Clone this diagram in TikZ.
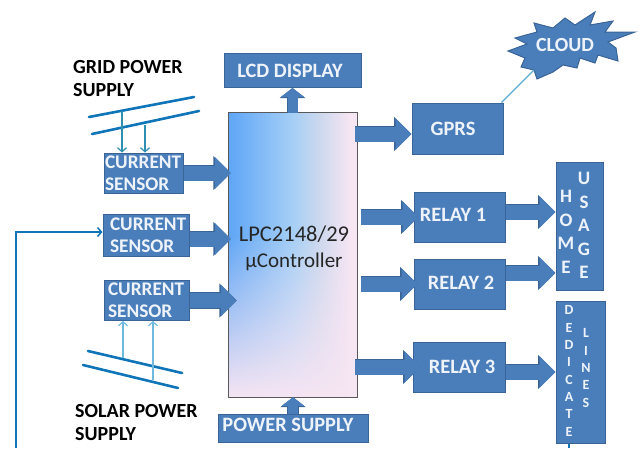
\documentclass[tikz,border=0pt]{standalone}
\usepackage{fontspec}
\setmainfont{Carlito}
\usetikzlibrary{arrows.meta, positioning, fadings}

\definecolor{blockblue}{HTML}{4A7EBB}
\definecolor{blockedge}{HTML}{3A6496}
\definecolor{blocktext}{HTML}{EEF3FA}
\definecolor{busblue}{HTML}{0F75B8}
\definecolor{tapteal}{HTML}{2F8FB0}
\definecolor{tapsky}{HTML}{6FB9DE}
\definecolor{mainright}{HTML}{F6E5F3}
\definecolor{mainleft}{HTML}{5FA6F6}
\definecolor{mainmid}{HTML}{A6CFF6}
\definecolor{mainsoft}{HTML}{CBD8EE}

\pgfdeclarehorizontalshading{mainshade}{100bp}{
    color(0bp)=(mainleft); color(25bp)=(mainleft); color(50bp)=(mainmid); color(60bp)=(mainsoft); color(72bp)=(mainright); color(100bp)=(mainright)}

\tikzfading[name=fadebottom, bottom color=transparent!0, top color=transparent!100]

\begin{document}
\begin{tikzpicture}[
    x=1pt, y=-1pt,
    block/.style={rectangle, draw=blockedge, fill=blockblue, line width=1pt, text=blocktext, font=\fontsize{20.4}{22}\selectfont\bfseries, align=center, inner sep=0pt},
    sensor/.style={block, align=left, minimum height=40pt, font=\fontsize{19.3}{22}\selectfont\bfseries},
    letters/.style={text=blocktext, font=\fontsize{19}{23.6}\selectfont\bfseries, align=center, inner sep=0pt},
    smallletters/.style={text=blocktext, font=\fontsize{14}{17.3}\selectfont\bfseries, align=center, inner sep=0pt},
    caption/.style={text=black, font=\fontsize{20}{23.5}\selectfont\bfseries, align=left, inner sep=0pt, anchor=west},
    bigarrow/.style={preaction={draw=blockedge, line width=16.6pt, -{Triangle[length=17.5pt, width=33pt]}}, draw=blockblue, line width=15pt, -{Triangle[length=16pt, width=31pt]}},
    smallarrow/.style={preaction={draw=blockedge, line width=11.6pt, -{Triangle[length=10pt, width=25pt]}}, draw=blockblue, line width=10pt, -{Triangle[length=9pt, width=23pt]}},
    bus/.style={draw=busblue, line width=2.6pt, line cap=round},
    tap/.style={line width=1.2pt, -{Straight Barb[length=4pt, width=9pt]}},
    feed/.style={draw=busblue, line width=1.5pt}
]
\useasboundingbox (0,0) rectangle (638,448);

% Controller
\node[shade, shading=mainshade, minimum width=128pt, minimum height=284pt, inner sep=0pt] (Main) at (293,255) {};
\coordinate (FadeTop) at (229,235);
\fill[mainright, path fading=fadebottom] (FadeTop) rectangle (Main.south east);
\draw[line width=0.7pt, draw=black!65] (Main.north west) rectangle (Main.south east);
\node[align=center, inner sep=0pt, text=black!85, font=\fontsize{21}{26}\selectfont] (MainText) at (294,248) {{\fontsize{22.5}{26}\selectfont LPC2148/29} \\ µController};

% Top and bottom blocks
\node[block, minimum width=137pt, minimum height=34pt] (LCD) at (292.5,70.5) {LCD DISPLAY\hspace{5pt}};
\node[block, minimum width=150pt, minimum height=28pt] (Power) at (293,428) {\raisebox{6pt}{POWER SUPPLY}\hspace{10pt}};

% Sensors
\node[sensor, text width=77pt, inner xsep=1pt] (S1) at (143.5,173) {CURRENT \\ SENSOR};
\node[sensor, text width=84pt, inner xsep=1pt, minimum height=42pt] (S2) at (146,235) {\hspace{6pt}CURRENT \\ \hspace{6pt}SENSOR};
\node[sensor, text width=83pt, inner xsep=1pt] (S3) at (146.5,300.5) {\hspace{3pt}CURRENT \\ \hspace{3pt}SENSOR};

% Right column
\node[block, minimum width=91pt, minimum height=51pt] (GPRS) at (457.5,128.5) {GPRS\hspace{9pt}};
\node[block, minimum width=91pt, minimum height=50pt] (Relay1) at (459.5,217) {\raisebox{5pt}{RELAY 1}\hspace{13pt}};
\node[block, minimum width=91pt, minimum height=50pt] (Relay2) at (459.5,284) {\raisebox{3pt}{RELAY 2}\hspace{-3pt}};
\node[block, minimum width=92pt, minimum height=50pt] (Relay3) at (459,367) {RELAY 3\hspace{-6pt}};
\node[block, minimum width=47pt, minimum height=128pt] (Home) at (579.5,226) {};
\node[letters] (HomeText) at (566,232) {H \\ O \\ M \\ E};
\node[letters] (UsageText) at (584,225.5) {U \\ S \\ A \\ G \\ E};
\node[block, minimum width=49pt, minimum height=142pt] (Dedicated) at (580.5,372) {};
\node[smallletters] (DediText) at (569,371) {D \\ E \\ D \\ I \\ C \\ A \\ T \\ E};
\node[smallletters] (LinesText) at (586,368) {L \\ I \\ N \\ E \\ S};

% Cloud
\draw[draw=blockedge, fill=blockblue, line width=1pt] (595,12) -- (590,25) -- (613,21) -- (605,32) -- (635,32) -- (608,42) -- (616,48) -- (618,61) -- (598,55) -- (595,63) -- (580,58) -- (577,68) -- (563,65) -- (553,72) -- (537,79) -- (534,70) -- (521,67) -- (525,58) -- (508,51) -- (527,44) -- (515,38) -- (537,32) -- (534,23) -- (553,28) -- (565,18) -- (575,25) -- cycle;
\node[inner sep=0pt, text=blocktext, font=\fontsize{20}{22}\selectfont\bfseries] (Cloud) at (565,45) {CLOUD};
\coordinate (CloudFoot) at (534,70);
\draw[line width=1.3pt, draw=tapsky!70!tapteal] (GPRS.north east) ++(-2,0) -- (CloudFoot);

% Supply captions
\node[caption] (GridText) at (73,78.5) {GRID POWER \\ SUPPLY};
\node[caption] (SolarText) at (75,422.5) {SOLAR POWER \\ SUPPLY};

% Grid and solar lines
\coordinate (GridA) at (89,117); \coordinate (GridB) at (194,97);
\coordinate (GridC) at (92,134); \coordinate (GridD) at (199,111);
\coordinate (SolarA) at (88,351); \coordinate (SolarB) at (182,373);
\coordinate (SolarC) at (83,365); \coordinate (SolarD) at (178,388);
\draw[bus] (GridA) -- (GridB);
\draw[bus] (GridC) -- (GridD);
\draw[bus] (SolarA) -- (SolarB);
\draw[bus] (SolarC) -- (SolarD);

% Taps
\coordinate (TapA) at (122,111); \coordinate (TapB) at (145,125);
\coordinate (TapC) at (123,358); \coordinate (TapD) at (153,380);
\draw[tap, draw=tapteal] (TapA) -- (TapA |- S1.north);
\draw[tap, draw=tapteal] (TapB) -- (TapB |- S1.north);
\draw[tap, draw=tapsky] (TapC) -- (TapC |- S3.south);
\draw[tap, draw=tapsky] (TapD) -- (TapD |- S3.south);

% Edges into controller
\draw[bigarrow] (S1.east) -- ([xshift=2pt]S1.east -| Main.west);
\draw[bigarrow] ([yshift=-4pt]S2.east) -- ([yshift=-4pt, xshift=2pt]S2.east -| Main.west);
\draw[bigarrow] (S3.east) -- ([xshift=8pt]S3.east -| Main.west);
\draw[smallarrow] (Power.north) -- (Power.north |- Main.south);
\draw[smallarrow] (LCD.south |- Main.north) -- (LCD.south);

% Edges out of controller
\draw[bigarrow] ([xshift=-2pt, yshift=-5.5pt]Main.east |- GPRS) -- ([yshift=-5.5pt]GPRS.west);
\draw[bigarrow] ([xshift=4pt]Main.east |- Relay1) -- ([xshift=5pt]Relay1.west);
\draw[bigarrow] ([xshift=4pt]Main.east |- Relay2) -- ([xshift=4pt]Relay2.west);
\draw[bigarrow] ([xshift=-2pt]Main.east |- Relay3) -- ([xshift=8pt]Relay3.west);

% Edges to loads
\draw[bigarrow] ([yshift=5pt]Relay1.east) -- ([yshift=5pt]Relay1.east -| Home.west);
\draw[bigarrow] ([yshift=11pt]Relay2.east) -- ([yshift=11pt]Relay2.east -| Home.west);
\draw[bigarrow] ([yshift=-5pt]Relay3.east) -- ([yshift=-5pt]Relay3.east -| Dedicated.west);

% Feedback line
\coordinate (FeedIn) at (16,448);
\coordinate (FeedOut) at (569,448);
\draw[feed, -{Straight Barb[length=4pt, width=9pt]}] (FeedIn) |- ([yshift=3pt]S2.west);
\draw[feed] (FeedOut |- Dedicated.south) -- (FeedOut);

\end{tikzpicture}
\end{document}
